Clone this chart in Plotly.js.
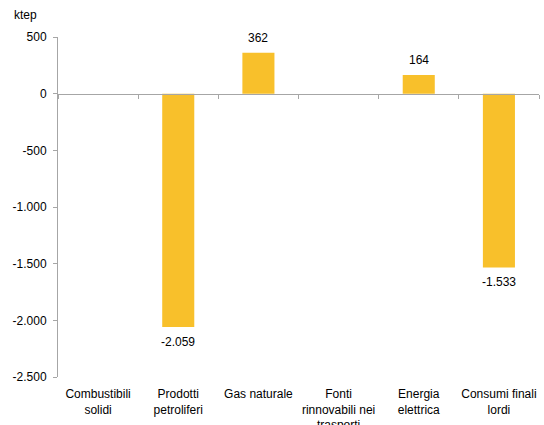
<!DOCTYPE html>
<html>
<head>
<meta charset="utf-8">
<script src="https://cdn.plot.ly/plotly-3.0.1.min.js"></script>
<style>html,body{margin:0;padding:0;background:#fff}#chart{width:544px;height:425px}</style>
</head>
<body>
<div id="chart"></div>
<script>
const categories = ["Combustibili<br>solidi", "Prodotti<br>petroliferi", "Gas naturale", "Fonti<br>rinnovabili nei<br>trasporti", "Energia<br>elettrica", "Consumi finali<br>lordi"];
const values = [0, -2059, 362, 0, 164, -1533];
const yTickValues = [500, 0, -500, -1000, -1500, -2000, -2500];
const unitLabel = "ktep";

function fmt(v) {
  const s = Math.abs(v).toString().replace(/\B(?=(\d{3})+(?!\d))/g, '.');
  return (v < 0 ? '-' : '') + s;
}

const FONT = "Liberation Sans, Arial, sans-serif";
const GRAY = "#A6A6A6";

const trace = {
  type: 'bar',
  x: categories,
  y: values,
  width: 0.4,
  marker: {color: '#F8C02B', line: {width: 0}},
  hoverinfo: 'skip'
};

const annotations = values.map((v, i) => v === 0 ? null : ({
  x: categories[i], y: v, xref: 'x', yref: 'y',
  text: fmt(v), showarrow: false,
  yanchor: v > 0 ? 'bottom' : 'top',
  yshift: v > 0 ? 6 : -6,
  font: {family: FONT, size: 12, color: '#000'}
})).filter(a => a);

annotations.push({
  xref: 'paper', yref: 'paper', x: -0.095, y: 1.0, yshift: 22,
  xanchor: 'left', yanchor: 'middle',
  text: unitLabel, showarrow: false,
  font: {family: FONT, size: 12, color: '#000'}
});

const layout = {
  width: 544, height: 425,
  margin: {l: 58, r: 5, t: 37, b: 48},
  paper_bgcolor: '#fff', plot_bgcolor: '#fff',
  showlegend: false,
  separators: ',.',
  font: {family: FONT, size: 12, color: '#000'},
  xaxis: {
    type: 'category',
    anchor: 'free', position: (0 - (-2500)) / 3000,
    showline: true, linecolor: GRAY, linewidth: 1,
    ticks: 'outside', tickson: 'boundaries', ticklen: 4, tickcolor: GRAY,
    showgrid: false, zeroline: false,
    tickangle: 0,
    ticklabelstandoff: 289,
    tickfont: {family: FONT, size: 12, color: '#000'},
    fixedrange: true
  },
  yaxis: {
    range: [-2500, 500],
    tickvals: yTickValues,
    ticktext: yTickValues.map(fmt),
    showline: true, linecolor: GRAY, linewidth: 1,
    ticks: 'outside', ticklen: 4, tickcolor: GRAY,
    ticklabelstandoff: 4,
    showgrid: false, zeroline: false,
    tickfont: {family: FONT, size: 12, color: '#000'},
    fixedrange: true
  },
  annotations: annotations
};

Plotly.newPlot('chart', [trace], layout, {displayModeBar: false, staticPlot: true});
</script>
</body>
</html>
